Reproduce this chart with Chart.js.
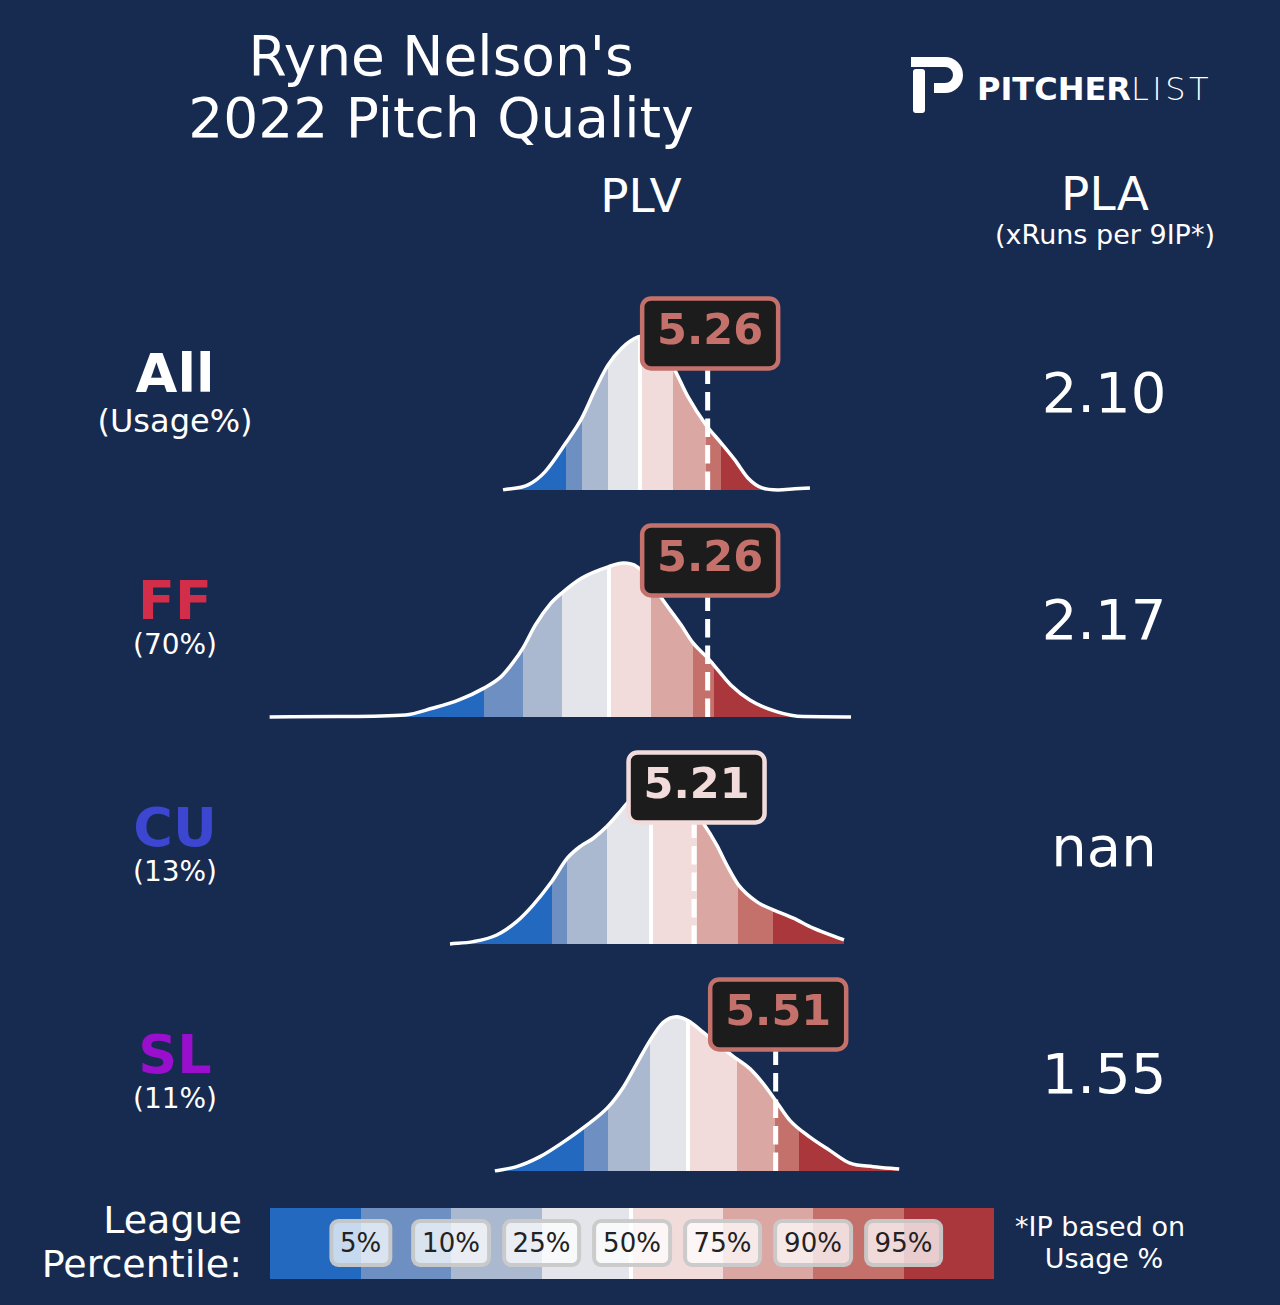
<!DOCTYPE html>
<html>
<head>
<meta charset="utf-8">
<script src="https://cdn.jsdelivr.net/npm/chart.js@4.4.0/dist/chart.umd.min.js"></script>
<style>
  html, body { margin: 0; padding: 0; }
  body {
    width: 1280px; height: 1305px; position: relative; overflow: hidden;
    background: #172a4f; color: #fff;
    font-family: 'DejaVu Sans', sans-serif;
  }
  .t { position: absolute; white-space: nowrap; line-height: 1; }
  .c { transform: translateX(-50%); }
  .r { transform: translateX(-100%); }
  canvas.row { position: absolute; }
  #legendBar { position: absolute; left: 270px; top: 1208px; width: 724px; height: 71px; display: flex; }
  #legendBar div { flex: 1; }
  .pbox {
    position: absolute; transform: translate(-50%, -50%);
    background: rgba(255, 255, 255, 0.75);
    border: 4px solid rgba(195, 195, 195, 0.85); border-radius: 9px;
    padding: 7px 7px; font-size: 26px; line-height: 1; color: #222; white-space: nowrap;
  }
</style>
</head>
<body>

<div class="t c" style="left:441px; top:28.6px; font-size:55px;">Ryne Nelson's</div>
<div class="t c" style="left:441px; top:90.9px; font-size:55px;">2022 Pitch Quality</div>
<div class="t c" style="left:641px; top:172.4px; font-size:47px;">PLV</div>
<div class="t c" style="left:1105px; top:169.9px; font-size:47px;">PLA</div>
<div class="t c" style="left:1105px; top:221px; font-size:27px;">(xRuns per 9IP*)</div>

<svg style="position:absolute; left:905px; top:52px;" width="60" height="66" viewBox="0 0 60 66">
  <path d="M6,5 H40 A18,18 0 0 1 40,41 H29 V31 H40 A8,8 0 0 0 40,15 H6 Z" fill="#fff"/>
  <rect x="8" y="17" width="12" height="44" rx="3" fill="#fff"/>
</svg>
<div class="t" style="left:977px; top:72.9px; font-size:32px;"><span style="font-weight:bold;">PITCHER</span><span style="font-weight:200; letter-spacing:3.5px;">LIST</span></div>

<div id="legendBar"></div>
<div class="t r" style="left:242px; top:1200.8px; font-size:38px;">League</div>
<div class="t r" style="left:242px; top:1244.8px; font-size:38px;">Percentile:</div>
<div class="t c" style="left:1100px; top:1213px; font-size:27px;">*IP based on</div>
<div class="t c" style="left:1104px; top:1245px; font-size:27px;">Usage %</div>

<script>
// ---- data ----
const pitchTypes = ['All', 'FF', 'CU', 'SL'];
const usageLabels = ['(Usage%)', '(70%)', '(13%)', '(11%)'];
const plvValues = [5.26, 5.26, 5.21, 5.51];
const plaValues = [2.10, 2.17, NaN, 1.55];
const percentileLabels = ['5%', '10%', '25%', '50%', '75%', '90%', '95%'];

// league PLV density per pitch type (x = PLV, y = relative density)
const allPlv = [4.508, 4.600, 4.662, 4.739, 4.798, 4.846, 4.894, 4.945, 5.004, 5.020, 5.048, 5.092, 5.133, 5.188, 5.254, 5.309, 5.360, 5.408, 5.460, 5.519, 5.581, 5.636];
const allDensity = [0.000, 0.033, 0.119, 0.311, 0.476, 0.661, 0.826, 0.938, 1.011, 1.015, 1.004, 0.925, 0.813, 0.614, 0.429, 0.311, 0.198, 0.079, 0.013, 0.000, 0.007, 0.013];

const ffPlv = [3.650, 3.896, 4.149, 4.248, 4.346, 4.438, 4.501, 4.543, 4.581, 4.627, 4.684, 4.723, 4.796, 4.897, 4.951, 5.000, 5.048, 5.091, 5.162, 5.207, 5.261, 5.282, 5.345, 5.415, 5.513, 5.612, 5.787];
const ffDensity = [0.000, 0.003, 0.013, 0.057, 0.112, 0.190, 0.266, 0.355, 0.454, 0.608, 0.751, 0.817, 0.916, 0.993, 1.016, 0.993, 0.905, 0.784, 0.608, 0.487, 0.388, 0.344, 0.211, 0.112, 0.035, 0.002, 0.000];

const cuPlv = [4.313, 4.399, 4.485, 4.558, 4.619, 4.687, 4.744, 4.791, 4.840, 4.889, 4.938, 4.975, 5.030, 5.103, 5.177, 5.244, 5.293, 5.330, 5.373, 5.440, 5.501, 5.575, 5.648, 5.761];
const cuDensity = [0.000, 0.015, 0.059, 0.147, 0.258, 0.412, 0.566, 0.643, 0.698, 0.775, 0.874, 0.951, 1.011, 1.004, 0.951, 0.797, 0.654, 0.522, 0.390, 0.279, 0.225, 0.170, 0.104, 0.026];

const slPlv = [4.478, 4.558, 4.644, 4.729, 4.806, 4.894, 4.950, 4.999, 5.048, 5.097, 5.146, 5.187, 5.244, 5.318, 5.367, 5.416, 5.465, 5.510, 5.563, 5.636, 5.710, 5.783, 5.869, 5.964];
const slDensity = [0.000, 0.028, 0.094, 0.190, 0.289, 0.421, 0.553, 0.707, 0.861, 0.982, 1.019, 0.993, 0.916, 0.806, 0.740, 0.674, 0.575, 0.464, 0.332, 0.223, 0.134, 0.051, 0.028, 0.013];

// league percentiles (5, 10, 25, 50, 75, 90, 95)
const allPct = [4.739, 4.798, 4.894, 5.011, 5.133, 5.254, 5.309];
const ffPct = [4.438, 4.581, 4.723, 4.897, 5.052, 5.207, 5.282];
const cuPct = [4.687, 4.744, 4.889, 5.051, 5.220, 5.373, 5.501];
const slPct = [4.806, 4.894, 5.048, 5.187, 5.367, 5.508, 5.596];

// ---- styles / layout ----
const bandColors = ['#2369bf', '#6d8fc1', '#aab8d0', '#e4e5ea', '#f2dcdb', '#dba7a3', '#c4716c', '#a9373b'];
const pitchColors = ['#ffffff', '#d22d49', '#3d46d0', '#9a0fce'];
const X_MIN = 3.6, X_MAX = 6.0, Y_MIN = -0.08, Y_MAX = 1.40;
const CANVAS_LEFT = 256, CANVAS_W = 653, CANVAS_H = 224;
const ROW_BASE = [490, 717, 944, 1171];
const BOX_RISE = 156.5;

const rows = [
  { plv: allPlv, density: allDensity, pct: allPct },
  { plv: ffPlv, density: ffDensity, pct: ffPct },
  { plv: cuPlv, density: cuDensity, pct: cuPct },
  { plv: slPlv, density: slDensity, pct: slPct }
];

function addText(text, x, cy, size, opts) {
  const el = document.createElement('div');
  el.className = 't ' + (opts.align || 'c');
  el.textContent = text;
  el.style.left = x + 'px';
  el.style.top = (cy - 0.4815 * size) + 'px';
  el.style.fontSize = size + 'px';
  if (opts.bold) el.style.fontWeight = 'bold';
  if (opts.color) el.style.color = opts.color;
  document.body.appendChild(el);
}

// 퍼센타일 구간 색 채우기 (중앙값에는 흰 줄)
function bandGradient(context, pct) {
  const chart = context.chart;
  const area = chart.chartArea;
  if (!area) return bandColors[3];
  const xs = chart.scales.x;
  const w = area.right - area.left;
  const f = px => Math.min(1, Math.max(0, (px - area.left) / w));
  const g = chart.ctx.createLinearGradient(area.left, 0, area.right, 0);
  g.addColorStop(0, bandColors[0]);
  pct.forEach((p, i) => {
    const px = xs.getPixelForValue(p);
    if (i === 3) {
      g.addColorStop(f(px - 2), bandColors[i]);
      g.addColorStop(f(px - 2), '#ffffff');
      g.addColorStop(f(px + 2), '#ffffff');
      g.addColorStop(f(px + 2), bandColors[i + 1]);
    } else {
      g.addColorStop(f(px), bandColors[i]);
      g.addColorStop(f(px), bandColors[i + 1]);
    }
  });
  g.addColorStop(1, bandColors[7]);
  return g;
}

function roundRectPath(ctx, x, y, w, h, r) {
  ctx.beginPath();
  ctx.moveTo(x + r, y);
  ctx.lineTo(x + w - r, y);
  ctx.arcTo(x + w, y, x + w, y + r, r);
  ctx.lineTo(x + w, y + h - r);
  ctx.arcTo(x + w, y + h, x + w - r, y + h, r);
  ctx.lineTo(x + r, y + h);
  ctx.arcTo(x, y + h, x, y + h - r, r);
  ctx.lineTo(x, y + r);
  ctx.arcTo(x, y, x + r, y, r);
  ctx.closePath();
}

// 투수 PLV 점선 + 값 라벨
const markerPlugin = {
  id: 'plvMarker',
  afterDatasetsDraw(chart, args, opts) {
    const { ctx, scales: { x, y } } = chart;
    const px = x.getPixelForValue(opts.value);
    const base = y.getPixelForValue(0);
    const cx = px + 2.5, cy = base - BOX_RISE;
    const color = bandColors[opts.pct.filter(p => p <= opts.value).length];
    const bw = 136, bh = 70;

    ctx.save();
    ctx.strokeStyle = '#ffffff';
    ctx.lineWidth = 5;
    ctx.setLineDash([18.5, 8]);
    ctx.beginPath();
    ctx.moveTo(px, base);
    ctx.lineTo(px, cy - bh / 2);
    ctx.stroke();
    ctx.setLineDash([]);

    roundRectPath(ctx, cx - bw / 2, cy - bh / 2, bw, bh, 9);
    ctx.fillStyle = '#1c1c1c';
    ctx.fill();
    ctx.lineWidth = 4.5;
    ctx.strokeStyle = color;
    ctx.stroke();

    ctx.fillStyle = color;
    ctx.font = 'bold 43px "DejaVu Sans"';
    ctx.textAlign = 'center';
    ctx.textBaseline = 'alphabetic';
    ctx.fillText(opts.value.toFixed(2), cx, cy + 11);
    ctx.restore();
  }
};

rows.forEach((row, i) => {
  const canvas = document.createElement('canvas');
  canvas.className = 'row';
  canvas.width = CANVAS_W;
  canvas.height = CANVAS_H;
  canvas.style.left = CANVAS_LEFT + 'px';
  canvas.style.top = (ROW_BASE[i] - (Y_MAX / (Y_MAX - Y_MIN)) * CANVAS_H) + 'px';
  document.body.appendChild(canvas);

  new Chart(canvas, {
    type: 'line',
    data: {
      datasets: [{
        data: row.plv.map((v, k) => ({ x: v, y: row.density[k] })),
        borderColor: '#ffffff',
        borderWidth: 3.5,
        pointRadius: 0,
        fill: 'origin',
        cubicInterpolationMode: 'monotone',
        backgroundColor: ctx => bandGradient(ctx, row.pct)
      }]
    },
    options: {
      responsive: false,
      animation: false,
      events: [],
      layout: { padding: 0 },
      scales: {
        x: { type: 'linear', min: X_MIN, max: X_MAX, display: false },
        y: { min: Y_MIN, max: Y_MAX, display: false }
      },
      plugins: {
        legend: { display: false },
        tooltip: { enabled: false },
        plvMarker: { value: plvValues[i], pct: row.pct }
      }
    },
    plugins: [markerPlugin]
  });

  // 왼쪽 구종 라벨, 오른쪽 PLA 값
  const rowShift = i * 227;
  addText(pitchTypes[i], 175, 373 + rowShift, 54, { bold: true, color: pitchColors[i] });
  if (i === 0) addText(usageLabels[i], 175, 420, 32, {});
  else addText(usageLabels[i], 175, 644 + (i - 1) * 227, 28, {});
  const pla = isNaN(plaValues[i]) ? 'nan' : plaValues[i].toFixed(2);
  addText(pla, 1104, 392 + rowShift, 56, {});
});

// 하단 퍼센타일 범례
const legendBar = document.getElementById('legendBar');
bandColors.forEach(c => {
  const d = document.createElement('div');
  d.style.background = c;
  legendBar.appendChild(d);
});
const medianMark = document.createElement('div');
medianMark.style.cssText = 'position:absolute; left:629px; top:1208px; width:4px; height:71px; background:#fff;';
document.body.appendChild(medianMark);
percentileLabels.forEach((label, i) => {
  const b = document.createElement('div');
  b.className = 'pbox';
  b.textContent = label;
  b.style.left = (270 + (i + 1) * 724 / 8) + 'px';
  b.style.top = '1243px';
  document.body.appendChild(b);
});
</script>
</body>
</html>
